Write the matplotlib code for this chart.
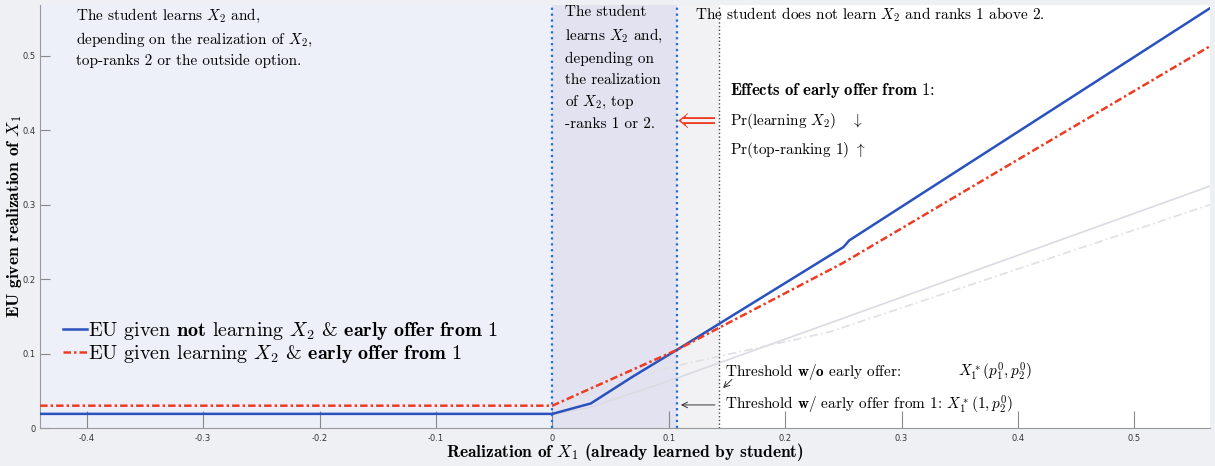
import matplotlib
matplotlib.use('Agg')
import matplotlib.pyplot as plt
import numpy as np

plt.rcParams['font.family'] = 'serif'
plt.rcParams['font.serif'] = ['cmr10', 'DejaVu Serif']
plt.rcParams['mathtext.fontset'] = 'cm'
plt.rcParams['axes.unicode_minus'] = False

# data
x_blue = [-0.44, 0.0, 0.033, 0.069, 0.107, 0.25, 0.255, 0.565]
y_blue = [0.019, 0.019, 0.033, 0.069, 0.105, 0.243, 0.252, 0.564]
x_red = [-0.44, 0.0, 0.107, 0.25, 0.565]
y_red = [0.03, 0.03, 0.105, 0.222, 0.513]
x_gray = [0.0, 0.033, 0.107, 0.565]
y_gray = [0.018, 0.028, 0.067, 0.325]
x_gray_dd = [0.0, 0.099, 0.238, 0.565]
y_gray_dd = [0.03, 0.081, 0.129, 0.30]
thr_with = 0.107
thr_without = 0.143
xticks = [-0.4, -0.3, -0.2, -0.1, 0, 0.1, 0.2, 0.3, 0.4, 0.5]
yticks = [0, 0.1, 0.2, 0.3, 0.4, 0.5]

fig = plt.figure(figsize=(12.15, 4.66), dpi=100, facecolor='#eef0f3')
ax = fig.add_axes([0.033, 0.0815, 0.963, 0.9075])
ax.set_xlim(-0.44, 0.565)
ax.set_ylim(0, 0.568)

# shaded regions
ax.axvspan(-0.44, 0, color='#eef0f9', zorder=0, lw=0)
ax.axvspan(0, thr_with, color='#e3e2f0', zorder=0, lw=0)
ax.axvspan(thr_with, thr_without, color='#f2f2f4', zorder=0, lw=0)
ax.axvspan(thr_without, 0.565, color='white', zorder=0, lw=0)

# faint lines
ax.plot(x_gray, y_gray, color='#dadae2', lw=1.2, zorder=1)
ax.plot(x_gray_dd, y_gray_dd, color='#e0e0e3', lw=1.2, ls=(0, (5, 2, 1, 2)), zorder=1)

# vertical thresholds
ax.axvline(0, color='#1f6fd6', ls=':', lw=1.6, zorder=2)
ax.axvline(thr_with, color='#1f6fd6', ls=':', lw=1.6, zorder=2)
ax.axvline(thr_without, color='#444444', ls=':', lw=1.0, zorder=2)

l1, = ax.plot(x_blue, y_blue, color='#2a52be', lw=1.8, zorder=3,
              label=r'EU given $\mathbf{not}$ learning $X_2$ & $\mathbf{early\ offer\ from\ 1}$')
l2, = ax.plot(x_red, y_red, color='#ee3b22', lw=1.8, ls=(0, (3, 1.2, 1, 1.2)), zorder=3,
              label=r'EU given learning $X_2$ & $\mathbf{early\ offer\ from\ 1}$')

leg = ax.legend(handles=[l1, l2], loc='upper left', bbox_to_anchor=(0.013, 0.275),
                frameon=False, fontsize=14.5, handlelength=1.15, handletextpad=0.05,
                labelspacing=0.05, borderaxespad=0)

# region texts
ax.text(-0.409, 0.566, 'The student learns $X_2$ and,\ndepending on the realization of $X_2$,\ntop-ranks 2 or the outside option.',
        fontsize=11, va='top', ha='left', linespacing=1.45)
ax.text(0.011, 0.568, 'The student\nlearns $X_2$ and,\ndepending on\nthe realization\nof $X_2$, top\n-ranks 1 or 2.',
        fontsize=11, va='top', ha='left', linespacing=1.62)
ax.text(0.1225, 0.568, 'The student does not learn $X_2$ and ranks 1 above 2.',
        fontsize=11, va='top', ha='left')

ax.text(0.153, 0.454, r'$\mathbf{Effects\ of\ early\ offer\ from\ 1}$:', fontsize=12, va='center')
ax.text(0.153, 0.413, r'Pr(learning $X_2$)   $\downarrow$', fontsize=11, va='center')
ax.text(0.153, 0.373, r'Pr(top-ranking 1) $\uparrow$', fontsize=11, va='center')
ax.text(0.1405, 0.413, r'$\Longleftarrow$', fontsize=18, color='#ee3b22', ha='right', va='center')

# threshold annotations
ax.text(0.148, 0.075, r'Threshold $\mathbf{w/o}$ early offer:', fontsize=11, va='center')
ax.text(0.348, 0.075, r'$X_1^*(p_1^0,p_2^0)$', fontsize=11, va='center')
ax.annotate('', xy=(0.145, 0.051), xytext=(0.156, 0.068),
            arrowprops=dict(arrowstyle='->', color='#333333', lw=0.7))
ax.text(0.148, 0.031, r'Threshold $\mathbf{w/}$ early offer from 1: $X_1^*(1,p_2^0)$', fontsize=11, va='center')
ax.annotate('', xy=(thr_with + 0.001, 0.031), xytext=(0.142, 0.031),
            arrowprops=dict(arrowstyle='->', color='#333333', lw=0.7))

ax.set_xticks(xticks)
ax.set_yticks(yticks)
ax.set_xticklabels(['-0.4', '-0.3', '-0.2', '-0.1', '0', '0.1', '0.2', '0.3', '0.4', '0.5'])
ax.set_yticklabels(['0', '0.1', '0.2', '0.3', '0.4', '0.5'])
for lab in ax.get_xticklabels() + ax.get_yticklabels():
    lab.set_fontfamily('DejaVu Sans')
    lab.set_fontsize(6)
    lab.set_color('#333333')
ax.tick_params(axis='x', direction='in', length=12, color='#888888', pad=4)
ax.tick_params(axis='y', direction='in', length=7, color='#888888', pad=3)
for s in ['top', 'right']:
    ax.spines[s].set_visible(False)
ax.spines['left'].set_color('#999999')
ax.spines['bottom'].set_color('#999999')

ax.set_xlabel('Realization of $X_1$ (already learned by student)', fontfamily='cmb10', fontsize=12.5, labelpad=-1)
ax.set_ylabel('EU given realization of $X_1$', fontfamily='cmb10', fontsize=12.5)
ax.yaxis.set_label_coords(-0.0135, 0.5)

plt.savefig('out.png', dpi=100, facecolor=fig.get_facecolor())
